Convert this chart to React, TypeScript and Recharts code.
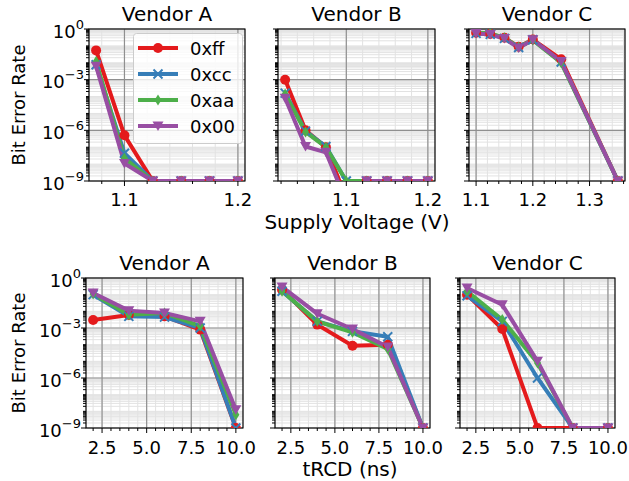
import React from "react";
import { LineChart, Line, XAxis, YAxis, CartesianGrid, ReferenceArea, Legend } from "recharts";

// series order: 0xff, 0xcc, 0xaa, 0x00
const seriesNames = ["0xff", "0xcc", "0xaa", "0x00"];
const seriesKeys = ["ff", "cc", "aa", "zz"];
const seriesColors = ["#e41a1c", "#377eb8", "#4daf4a", "#984ea3"];
const seriesMarkers = ["circle", "x", "diamond", "tri"];

const vendors = ["Vendor A", "Vendor B", "Vendor C"];

// supply voltage sweeps (V)
const voltA = [1.075, 1.1, 1.125, 1.15, 1.175, 1.2];
const voltA_ff = [5.4e-2, 5.1e-7, 1e-9, 1e-9, 1e-9, 1e-9];
const voltA_cc = [7.6e-3, 4.4e-8, 1e-9, 1e-9, 1e-9, 1e-9];
const voltA_aa = [1.2e-2, 2.2e-8, 1e-9, 1e-9, 1e-9, 1e-9];
const voltA_00 = [6.3e-3, 1.1e-8, 1e-9, 1e-9, 1e-9, 1e-9];

const voltB = [1.025, 1.05, 1.075, 1.1, 1.125, 1.15, 1.175, 1.2];
const voltB_ff = [1e-3, 1e-6, 1e-7, 1e-10, 1e-9, 1e-9, 1e-9, 1e-9];
const voltB_cc = [1.6e-4, 9e-7, 1.1e-7, 1e-9, 1e-9, 1e-9, 1e-9, 1e-9];
const voltB_aa = [1.4e-4, 8e-7, 1e-7, 1e-9, 1e-9, 1e-9, 1e-9, 1e-9];
const voltB_00 = [8e-5, 1.1e-7, 5e-8, 6e-11, 1e-9, 1e-9, 1e-9, 1e-9];

const voltC = [1.1, 1.125, 1.15, 1.175, 1.2, 1.25, 1.35];
const voltC_ff = [0.6, 0.5, 0.3, 0.09, 0.24, 1.6e-2, 1e-9];
const voltC_cc = [0.55, 0.48, 0.28, 0.08, 0.23, 1.1e-2, 1e-9];
const voltC_aa = [0.62, 0.55, 0.3, 0.085, 0.22, 1e-2, 1e-9];
const voltC_00 = [0.55, 0.48, 0.27, 0.075, 0.23, 1.2e-2, 1e-9];

// tRCD sweeps (ns)
const trcd = [2, 4, 6, 8, 10];
const trcdA_ff = [3e-3, 6e-3, 5e-3, 8e-4, 1e-9];
const trcdA_cc = [1e-1, 5e-3, 4.5e-3, 1e-3, 1e-9];
const trcdA_aa = [1.1e-1, 6.3e-3, 7.9e-3, 1.3e-3, 6.3e-9];
const trcdA_00 = [1.26e-1, 1.1e-2, 7.9e-3, 2.5e-3, 1.26e-8];

const trcdB_ff = [2e-1, 1.6e-3, 8.7e-5, 1e-4, 1e-9];
const trcdB_cc = [1.6e-1, 2.5e-3, 6.3e-4, 3e-4, 1e-9];
const trcdB_aa = [1.6e-1, 2.5e-3, 5.5e-4, 5.5e-5, 1e-9];
const trcdB_00 = [2.9e-1, 7.2e-3, 8.7e-4, 7.2e-5, 1e-9];

const trcdC_ff = [1e-1, 8.7e-4, 1e-9, 1e-9, 1e-9];
const trcdC_cc = [8.7e-2, 2.5e-3, 1e-6, 1e-9, 1e-9];
const trcdC_aa = [1.6e-1, 3.2e-3, 8e-6, 1e-9, 1e-9];
const trcdC_00 = [2.5e-1, 2.5e-2, 1e-5, 1e-9, 1e-9];

// ticks
const yMajor = [1e-9, 1e-6, 1e-3, 1];
const yDecades = [1e-9, 1e-8, 1e-7, 1e-6, 1e-5, 1e-4, 1e-3, 1e-2, 1e-1];
const yMinor = yDecades.flatMap((d) => [1, 2, 3, 4, 5, 6, 7, 8, 9].map((m) => m * d)).concat([1]);

const voltMajorA = [1.1, 1.2];
const voltMinorA = [1.08, 1.1, 1.12, 1.14, 1.16, 1.18, 1.2];
const voltMajorB = [1.1, 1.2];
const voltMinorB = [1.02, 1.04, 1.06, 1.08, 1.1, 1.12, 1.14, 1.16, 1.18, 1.2];
const voltMajorC = [1.1, 1.2, 1.3];
const voltMinorC = [1.1, 1.12, 1.14, 1.16, 1.18, 1.2, 1.22, 1.24, 1.26, 1.28, 1.3, 1.32, 1.34, 1.36];
const trcdMajor = [2.5, 5, 7.5, 10];
const trcdMinor = [2, 2.5, 3, 3.5, 4, 4.5, 5, 5.5, 6, 6.5, 7, 7.5, 8, 8.5, 9, 9.5, 10];

const panels = [
  { box: [89, 29, 245, 181], xs: voltA, ys: [voltA_ff, voltA_cc, voltA_aa, voltA_00], xMajor: voltMajorA, xMinor: voltMinorA, yLabels: true, legend: true },
  { box: [278, 29, 435, 181], xs: voltB, ys: [voltB_ff, voltB_cc, voltB_aa, voltB_00], xMajor: voltMajorB, xMinor: voltMinorB, yLabels: false, legend: false },
  { box: [469, 29, 625, 181], xs: voltC, ys: [voltC_ff, voltC_cc, voltC_aa, voltC_00], xMajor: voltMajorC, xMinor: voltMinorC, yLabels: false, legend: false },
  { box: [86, 278, 243, 428], xs: trcd, ys: [trcdA_ff, trcdA_cc, trcdA_aa, trcdA_00], xMajor: trcdMajor, xMinor: trcdMinor, yLabels: true, legend: false },
  { box: [275, 278, 430, 428], xs: trcd, ys: [trcdB_ff, trcdB_cc, trcdB_aa, trcdB_00], xMajor: trcdMajor, xMinor: trcdMinor, yLabels: false, legend: false },
  { box: [460, 278, 615, 428], xs: trcd, ys: [trcdC_ff, trcdC_cc, trcdC_aa, trcdC_00], xMajor: trcdMajor, xMinor: trcdMinor, yLabels: false, legend: false },
];

const FONT = "'DejaVu Sans', sans-serif";
const L = 60;
const T = 15;
const R = 25;
const B = 32;

const isIn = (v: number, list: number[]) => list.some((m) => Math.abs(m - v) <= Math.abs(m) * 1e-6 + 1e-12);

function Marker({ kind, cx, cy, color }: any) {
  if (cx == null || cy == null) return null;
  if (kind === "circle") return <circle cx={cx} cy={cy} r={5} fill={color} />;
  if (kind === "x")
    return (
      <path
        d={`M${cx - 4.5},${cy - 4.5}L${cx + 4.5},${cy + 4.5}M${cx - 4.5},${cy + 4.5}L${cx + 4.5},${cy - 4.5}`}
        stroke={color}
        strokeWidth={2}
        fill="none"
      />
    );
  if (kind === "diamond")
    return <path d={`M${cx},${cy - 5.5}L${cx + 3.5},${cy}L${cx},${cy + 5.5}L${cx - 3.5},${cy}Z`} fill={color} />;
  return <path d={`M${cx - 5.5},${cy - 4.5}L${cx + 5.5},${cy - 4.5}L${cx},${cy + 5}Z`} fill={color} />;
}

function renderLegend(props: any) {
  const payload = [...(props.payload || [])].sort(
    (a: any, b: any) => seriesNames.indexOf(a.value) - seriesNames.indexOf(b.value)
  );
  return (
    <svg width={110} height={111} style={{ display: "block" }}>
      <rect x={0.5} y={0.5} width={109} height={110} rx={3} fill="#fff" fillOpacity={0.8} stroke="#cccccc" />
      {payload.map((entry: any, i: number) => {
        const cy = 15 + i * 26;
        const idx = seriesNames.indexOf(entry.value);
        return (
          <g key={entry.value}>
            <line x1={5} x2={45} y1={cy} y2={cy} stroke={entry.color} strokeWidth={4} />
            <Marker kind={seriesMarkers[idx]} cx={25} cy={cy} color={entry.color} />
            <text x={57} y={cy + 6.5} fontSize={18} fontFamily={FONT} fill="#000">
              {entry.value}
            </text>
          </g>
        );
      })}
    </svg>
  );
}

function Panel({ cfg, labelGap }: any) {
  const [x0, y0, x1, y1] = cfg.box;
  const w = x1 - x0;
  const h = y1 - y0;
  const xs: number[] = cfg.xs;
  const span = xs[xs.length - 1] - xs[0];
  const lo = xs[0] - 0.05 * span;
  const hi = xs[xs.length - 1] + 0.05 * span;
  const data = xs.map((x, i) => {
    const row: any = { x };
    seriesKeys.forEach((k, s) => (row[k] = cfg.ys[s][i]));
    return row;
  });
  const xTicks = Array.from(new Set([...cfg.xMinor, ...cfg.xMajor])).sort((a: any, b: any) => a - b);
  const left = x0 - L;
  const top = y0 - T;
  const bottomY = T + h;

  const xTick = (p: any) => {
    const v = p.payload.value;
    const major = isIn(v, cfg.xMajor);
    return (
      <g>
        <line x1={p.x} x2={p.x} y1={bottomY} y2={bottomY + (major ? 5 : 3)} stroke="#000" strokeWidth={1} />
        {major && (
          <text x={p.x} y={bottomY + labelGap} textAnchor="middle" fontSize={18} fontFamily={FONT} fill="#000">
            {v.toFixed(1)}
          </text>
        )}
      </g>
    );
  };

  const yTick = (p: any) => {
    const v = p.payload.value;
    const major = isIn(v, yMajor);
    const exp = Math.round(Math.log10(v));
    return (
      <g>
        <line x1={L - (major ? 5 : 3)} x2={L} y1={p.y} y2={p.y} stroke="#000" strokeWidth={1} />
        {major && cfg.yLabels && (
          <text x={L - 5} y={p.y} dy={8.5} textAnchor="end" fontSize={18} fontFamily={FONT} fill="#000">
            10
            <tspan dy={-9} fontSize={13}>
              {exp === 0 ? "0" : "\u2212" + -exp}
            </tspan>
          </text>
        )}
      </g>
    );
  };

  return (
    <div style={{ position: "absolute", left, top }}>
      <LineChart width={w + L + R} height={h + T + B} data={data} margin={{ top: T, right: R, bottom: 0, left: 0 }}>
        <XAxis
          dataKey="x"
          type="number"
          domain={[lo, hi]}
          allowDataOverflow
          ticks={xTicks}
          interval={0}
          tickLine={false}
          axisLine={false}
          height={B}
          tick={xTick}
        />
        <YAxis
          scale="log"
          domain={[1e-9, 1]}
          allowDataOverflow
          ticks={yMinor}
          interval={0}
          tickLine={false}
          axisLine={false}
          width={L}
          tick={yTick}
        />
        <CartesianGrid horizontalValues={yMinor} verticalValues={cfg.xMinor} stroke="#e2e2e2" strokeWidth={1} />
        <CartesianGrid horizontalValues={yMajor} verticalValues={cfg.xMajor} stroke="#8f8f8f" strokeWidth={1.2} />
        <ReferenceArea x1={lo} x2={hi} y1={1e-9} y2={1} fill="none" stroke="#000" strokeWidth={1.2} ifOverflow="visible" />
        {seriesKeys.map((k, s) => (
          <Line
            key={k}
            dataKey={k}
            name={seriesNames[s]}
            stroke={seriesColors[s]}
            strokeWidth={4}
            isAnimationActive={false}
            dot={(p: any) => <Marker key={`${k}-${p.index}`} kind={seriesMarkers[s]} cx={p.cx} cy={p.cy} color={seriesColors[s]} />}
            activeDot={false}
          />
        ))}
        {cfg.legend && (
          <Legend
            layout="horizontal"
            verticalAlign="middle"
            align="center"
            content={renderLegend}
            wrapperStyle={{ left: 133 - left, top: 33 - top, width: 110, height: 111 }}
          />
        )}
      </LineChart>
    </div>
  );
}

function Txt({ x, y, size, rotate, children }: any) {
  return (
    <div
      style={{
        position: "absolute",
        left: x,
        top: y,
        transform: `translate(-50%, -50%)${rotate ? " rotate(-90deg)" : ""}`,
        fontSize: size,
        lineHeight: 1,
        whiteSpace: "nowrap",
        fontFamily: FONT,
        color: "#000",
      }}
    >
      {children}
    </div>
  );
}

export default function App() {
  return (
    <div style={{ position: "absolute", left: 0, top: 0, width: 629, height: 481, background: "#fff", overflow: "hidden" }}>
      {panels.map((p, i) => (
        <Panel key={i} cfg={p} labelGap={i < 3 ? 25 : 26} />
      ))}
      {panels.map((p, i) => (
        <Txt key={"t" + i} x={(p.box[0] + p.box[2]) / 2} y={i < 3 ? 13.5 : 263} size={20}>
          {vendors[i % 3]}
        </Txt>
      ))}
      <Txt x={18.5} y={105} size={18} rotate>
        Bit Error Rate
      </Txt>
      <Txt x={18.5} y={353} size={18} rotate>
        Bit Error Rate
      </Txt>
      <Txt x={357} y={222} size={20}>
        Supply Voltage (V)
      </Txt>
      <Txt x={350} y={469} size={20}>
        tRCD (ns)
      </Txt>
    </div>
  );
}
